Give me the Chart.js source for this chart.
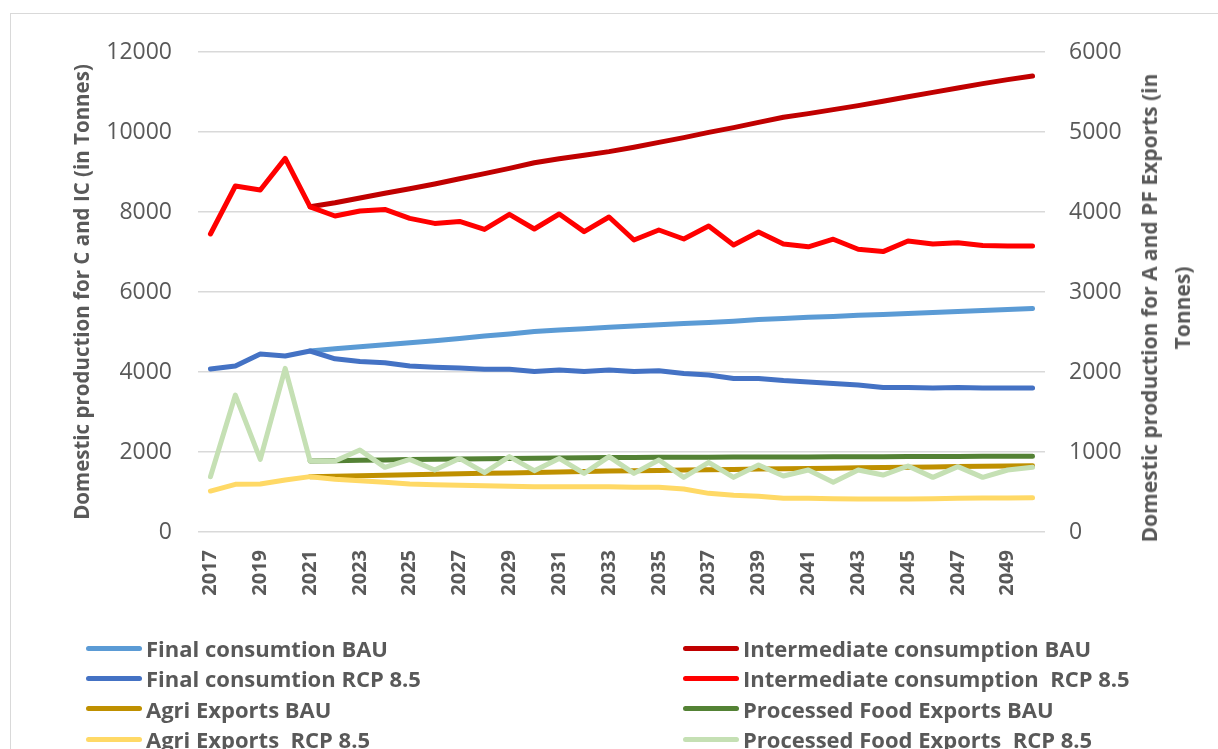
<!DOCTYPE html>
<html>
<head>
<meta charset="utf-8">
<script src="https://cdn.jsdelivr.net/npm/chart.js@4.4.0/dist/chart.umd.min.js"></script>
<style>
  body { margin: 0; width: 1218px; height: 749px; overflow: hidden; background: #fff; position: relative; font-family: "Open Sans", sans-serif; }
  #frame { position: absolute; left: 10px; top: 13px; width: 1300px; height: 900px; border: 1px solid #d9d9d9; }
  #chart { position: absolute; left: 0; top: 0; }
  #rightTitle { position: absolute; left: 1166px; top: 308px; transform: translate(-50%, -50%) rotate(-90deg);
    font: bold 21px "Open Sans", sans-serif; color: #595959; line-height: 33px; text-align: center; white-space: nowrap; }
  #legend { position: absolute; left: 0; top: 0; }
  .item { position: absolute; display: flex; align-items: center; font: bold 22px "Open Sans", sans-serif; color: #595959; white-space: nowrap; height: 30px; }
  .item span.swatch { display: inline-block; width: 56px; height: 5px; border-radius: 3px; margin-right: 4px; }
</style>
</head>
<body>
<div id="frame"></div>
<canvas id="chart" width="1218" height="749"></canvas>
<div id="rightTitle">Domestic production for A and PF Exports (in<br>Tonnes)</div>
<div id="legend"></div>
<script>
//==============================Data============================

const years = ['2017', '2018', '2019', '2020', '2021', '2022', '2023', '2024', '2025', '2026',
  '2027', '2028', '2029', '2030', '2031', '2032', '2033', '2034', '2035', '2036',
  '2037', '2038', '2039', '2040', '2041', '2042', '2043', '2044', '2045', '2046',
  '2047', '2048', '2049', '2050'];

// left axis (C and IC)
const finalBau = [null, null, null, null, 4525, 4580, 4630, 4680, 4730, 4780, 4840, 4900, 4950, 5010, 5050,
  5080, 5120, 5150, 5180, 5210, 5240, 5270, 5310, 5340, 5370, 5390, 5420, 5440, 5460, 5490, 5510, 5540, 5560, 5590];
const finalRcp = [4075, 4150, 4450, 4400, 4525, 4330, 4260, 4230, 4150, 4120, 4100, 4070, 4070, 4010, 4050,
  4010, 4050, 4010, 4030, 3965, 3925, 3840, 3840, 3785, 3750, 3715, 3675, 3615, 3615, 3600, 3615, 3600, 3600, 3600];
const icBau = [null, null, null, null, 8130, 8230, 8350, 8470, 8580, 8700, 8830, 8960, 9090, 9230, 9330,
  9420, 9510, 9620, 9740, 9860, 9990, 10110, 10240, 10370, 10460, 10560, 10660, 10770, 10880, 10990, 11100, 11210, 11310, 11400];
const icRcp = [7450, 8650, 8550, 9340, 8130, 7900, 8025, 8065, 7840, 7715, 7765, 7565, 7940, 7575, 7950,
  7510, 7875, 7300, 7550, 7325, 7650, 7175, 7500, 7200, 7130, 7320, 7070, 7010, 7275, 7200, 7230, 7160, 7150, 7150];

// right axis (A and PF exports)
const agriBau = [null, null, null, null, 692, 698, 704, 710, 716, 721, 727, 733, 739, 745, 750,
  756, 762, 766, 770, 774, 778, 782, 786, 790, 794, 798, 802, 806, 810, 814, 818, 822, 826, 829];
const agriRcp = [512, 596, 600, 650, 692, 658, 642, 621, 600, 592, 583, 579, 571, 567, 567,
  567, 567, 558, 558, 537, 483, 458, 446, 421, 421, 417, 412, 412, 412, 417, 421, 425, 425, 429];
const pfBau = [null, null, null, null, 887, 892, 897, 901, 905, 909, 913, 916, 919, 922, 925,
  928, 931, 932, 933, 934, 935, 936, 937, 938, 939, 940, 941, 942, 943, 944, 945, 946, 947, 948];
const pfRcp = [691, 1712, 908, 2046, 887, 887, 1025, 808, 908, 775, 920, 742, 942, 767, 920,
  733, 942, 733, 900, 683, 871, 683, 837, 700, 775, 621, 775, 712, 825, 683, 817, 683, 775, 808];

const leftTicks = [0, 2000, 4000, 6000, 8000, 10000, 12000];
const rightTicks = [0, 1000, 2000, 3000, 4000, 5000, 6000];

//==============================Chart============================

const grey = '#595959';

function line(label, data, color, axis) {
  return {
    label: label, data: data, yAxisID: axis,
    borderColor: color, backgroundColor: color,
    borderWidth: 5, pointRadius: 0, tension: 0,
    borderCapStyle: 'round', borderJoinStyle: 'round', fill: false
  };
}

// first dataset ends up on top
const datasets = [
  line('Processed Food Exports  RCP 8.5', pfRcp, '#C5E0B4', 'y2'),
  line('Processed Food Exports BAU', pfBau, '#548235', 'y2'),
  line('Agri Exports  RCP 8.5', agriRcp, '#FFD966', 'y2'),
  line('Agri Exports BAU', agriBau, '#BF9000', 'y2'),
  line('Intermediate consumption  RCP 8.5', icRcp, '#FF0000', 'y'),
  line('Intermediate consumption BAU', icBau, '#C00000', 'y'),
  line('Final consumtion RCP 8.5', finalRcp, '#4472C4', 'y'),
  line('Final consumtion BAU', finalBau, '#5B9BD5', 'y')
];

const plain = v => String(v);

const chart = new Chart(document.getElementById('chart'), {
  type: 'line',
  data: { labels: years, datasets: datasets },
  options: {
    responsive: false,
    animation: false,
    layout: { padding: { left: 62, top: 52, right: 0, bottom: 137 } },
    plugins: { legend: { display: false }, tooltip: { enabled: false } },
    scales: {
      x: {
        offset: true,
        grid: { display: false },
        border: { display: false },
        afterFit: s => { s.height = 80; },
        ticks: {
          autoSkip: false, minRotation: 90, maxRotation: 90, padding: 10,
          color: grey, font: { family: 'Open Sans', size: 20, weight: 'bold' },
          callback: function (v, i) { return i % 2 === 0 ? years[i] : ''; }
        }
      },
      y: {
        position: 'left', min: 0, max: 12000,
        afterBuildTicks: s => { s.ticks = leftTicks.map(v => ({ value: v })); },
        afterFit: s => { s.width = 136; },
        grid: { color: '#D9D9D9', lineWidth: 1.5, drawTicks: false },
        border: { display: false },
        ticks: { padding: 26, color: grey, font: { family: 'Open Sans', size: 23 }, callback: plain },
        title: {
          display: true, text: 'Domestic production for C and IC (in Tonnes)',
          color: grey, font: { family: 'Open Sans', size: 20.5, weight: 'bold' }, padding: { top: 9, bottom: 0 }
        }
      },
      y2: {
        position: 'right', min: 0, max: 6000,
        afterBuildTicks: s => { s.ticks = rightTicks.map(v => ({ value: v })); },
        afterFit: s => { s.width = 173; },
        grid: { display: false, drawTicks: false },
        border: { display: false },
        ticks: { padding: 24, color: grey, font: { family: 'Open Sans', size: 23 }, callback: plain }
      }
    }
  }
});

//==============================Legend============================

const legendRows = [
  ['Final consumtion BAU', 'Intermediate consumption BAU'],
  ['Final consumtion RCP 8.5', 'Intermediate consumption  RCP 8.5'],
  ['Agri Exports BAU', 'Processed Food Exports BAU'],
  ['Agri Exports  RCP 8.5', 'Processed Food Exports  RCP 8.5']
];
const legendBox = document.getElementById('legend');
legendRows.forEach((row, r) => {
  row.forEach((label, c) => {
    const ds = datasets.find(d => d.label === label);
    const el = document.createElement('div');
    el.className = 'item';
    el.style.left = (c === 0 ? 86 : 683) + 'px';
    el.style.top = (633 + r * 30.4) + 'px';
    el.innerHTML = '<span class="swatch" style="background:' + ds.borderColor + '"></span>' +
      label.replace(/  /g, ' &nbsp;');
    legendBox.appendChild(el);
  });
});
</script>
</body>
</html>
